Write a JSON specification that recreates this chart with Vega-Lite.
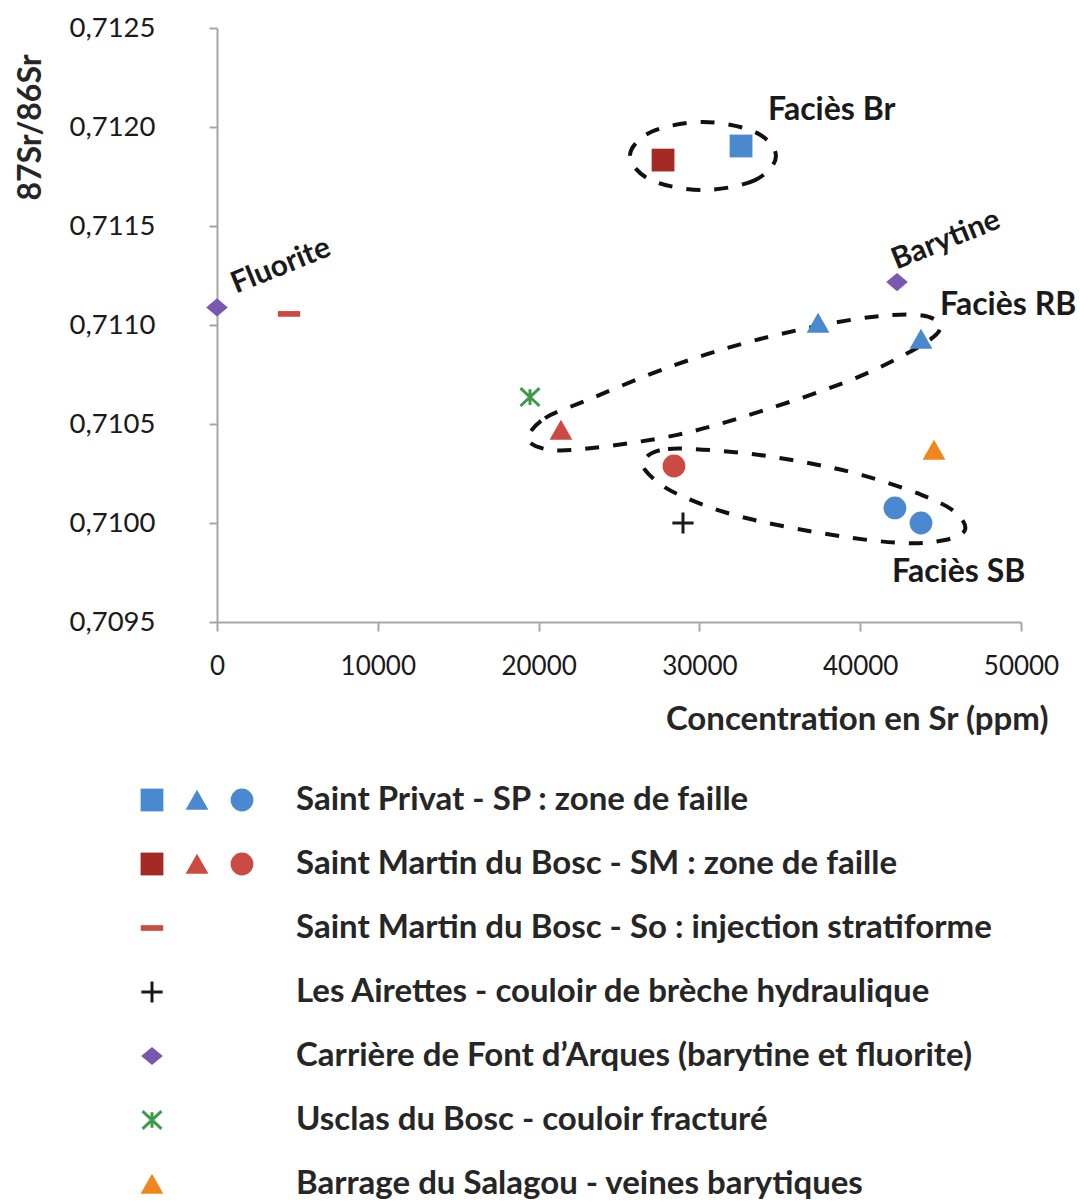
{
  "$schema": "https://vega.github.io/schema/vega-lite/v6.json",
  "background": "white",
  "padding": {"left": 14, "top": 14, "right": 0, "bottom": 0},
  "config": {"view": {"stroke": null}, "font": "Lato", "axis": {"grid": false}},
  "bounds": "flush",
  "spacing": 178,
  "datasets": {
    "mesures": [
      {"serie": "SP Br", "sr": 32590, "ratio": 0.711904},
      {"serie": "SM Br", "sr": 27740, "ratio": 0.711833},
      {"serie": "SP RB", "sr": 37380, "ratio": 0.71101},
      {"serie": "SP RB", "sr": 43780, "ratio": 0.710929},
      {"serie": "SM RB", "sr": 21390, "ratio": 0.71047},
      {"serie": "SM SB", "sr": 28420, "ratio": 0.710288},
      {"serie": "SP SB", "sr": 42160, "ratio": 0.710076},
      {"serie": "SP SB", "sr": 43780, "ratio": 0.71},
      {"serie": "So", "sr": 4480, "ratio": 0.711056},
      {"serie": "Airettes", "sr": 28980, "ratio": 0.71},
      {"serie": "Font d'Arques", "sr": 0, "ratio": 0.711089},
      {"serie": "Font d'Arques", "sr": 42290, "ratio": 0.711217},
      {"serie": "Usclas", "sr": 19465, "ratio": 0.710636},
      {"serie": "Salagou", "sr": 44590, "ratio": 0.710369}
    ],
    "ellipses": [
      {"ellipse": "Br", "ordre": 1, "sr": 34760, "ratio": 0.711854},
      {"ellipse": "Br", "ordre": 2, "sr": 33460, "ratio": 0.711732},
      {"ellipse": "Br", "ordre": 3, "sr": 30220, "ratio": 0.711682},
      {"ellipse": "Br", "ordre": 4, "sr": 26990, "ratio": 0.711732},
      {"ellipse": "Br", "ordre": 5, "sr": 25680, "ratio": 0.711854},
      {"ellipse": "Br", "ordre": 6, "sr": 26990, "ratio": 0.711975},
      {"ellipse": "Br", "ordre": 7, "sr": 30220, "ratio": 0.712025},
      {"ellipse": "Br", "ordre": 8, "sr": 33460, "ratio": 0.711975},
      {"ellipse": "RB", "ordre": 1, "sr": 19341, "ratio": 0.710429},
      {"ellipse": "RB", "ordre": 2, "sr": 20398, "ratio": 0.71053},
      {"ellipse": "RB", "ordre": 3, "sr": 22886, "ratio": 0.710616},
      {"ellipse": "RB", "ordre": 4, "sr": 28296, "ratio": 0.710793},
      {"ellipse": "RB", "ordre": 5, "sr": 33769, "ratio": 0.710929},
      {"ellipse": "RB", "ordre": 6, "sr": 39739, "ratio": 0.71103},
      {"ellipse": "RB", "ordre": 7, "sr": 43532, "ratio": 0.711051},
      {"ellipse": "RB", "ordre": 8, "sr": 44963, "ratio": 0.711},
      {"ellipse": "RB", "ordre": 9, "sr": 44030, "ratio": 0.710909},
      {"ellipse": "RB", "ordre": 10, "sr": 39863, "ratio": 0.710737},
      {"ellipse": "RB", "ordre": 11, "sr": 33893, "ratio": 0.710566},
      {"ellipse": "RB", "ordre": 12, "sr": 28545, "ratio": 0.710444},
      {"ellipse": "RB", "ordre": 13, "sr": 22823, "ratio": 0.710374},
      {"ellipse": "RB", "ordre": 14, "sr": 20398, "ratio": 0.710374},
      {"ellipse": "SB", "ordre": 1, "sr": 26493, "ratio": 0.710308},
      {"ellipse": "SB", "ordre": 2, "sr": 28047, "ratio": 0.710374},
      {"ellipse": "SB", "ordre": 3, "sr": 32587, "ratio": 0.710354},
      {"ellipse": "SB", "ordre": 4, "sr": 36443, "ratio": 0.710308},
      {"ellipse": "SB", "ordre": 5, "sr": 40112, "ratio": 0.710242},
      {"ellipse": "SB", "ordre": 6, "sr": 43843, "ratio": 0.710141},
      {"ellipse": "SB", "ordre": 7, "sr": 45896, "ratio": 0.710056},
      {"ellipse": "SB", "ordre": 8, "sr": 46517, "ratio": 0.709965},
      {"ellipse": "SB", "ordre": 9, "sr": 45274, "ratio": 0.709914},
      {"ellipse": "SB", "ordre": 10, "sr": 42662, "ratio": 0.709899},
      {"ellipse": "SB", "ordre": 11, "sr": 38308, "ratio": 0.709939},
      {"ellipse": "SB", "ordre": 12, "sr": 32649, "ratio": 0.71003},
      {"ellipse": "SB", "ordre": 13, "sr": 29042, "ratio": 0.710131},
      {"ellipse": "SB", "ordre": 14, "sr": 27239, "ratio": 0.710217}
    ],
    "annotations": [
      {"texte": "Fluorite", "categorie": "minéral", "sr": 3980, "ratio": 0.711298},
      {"texte": "Barytine", "categorie": "minéral", "sr": 45336, "ratio": 0.711429},
      {"texte": "Faciès Br", "categorie": "faciès", "sr": 34266, "ratio": 0.712086},
      {"texte": "Faciès RB", "categorie": "faciès", "sr": 44963, "ratio": 0.711101},
      {"texte": "Faciès SB", "categorie": "faciès", "sr": 41978, "ratio": 0.709753}
    ],
    "legende_symboles": [
      {"ligne": 0, "colonne": 0, "serie": "SP Br"},
      {"ligne": 0, "colonne": 1, "serie": "SP RB"},
      {"ligne": 0, "colonne": 2, "serie": "SP SB"},
      {"ligne": 1, "colonne": 0, "serie": "SM Br"},
      {"ligne": 1, "colonne": 1, "serie": "SM RB"},
      {"ligne": 1, "colonne": 2, "serie": "SM SB"},
      {"ligne": 2, "colonne": 0, "serie": "So"},
      {"ligne": 3, "colonne": 0, "serie": "Airettes"},
      {"ligne": 4, "colonne": 0, "serie": "Font d'Arques"},
      {"ligne": 5, "colonne": 0, "serie": "Usclas"},
      {"ligne": 6, "colonne": 0, "serie": "Salagou"}
    ],
    "legende_textes": [
      {"ligne": 0, "texte": "Saint Privat - SP : zone de faille"},
      {"ligne": 1, "texte": "Saint Martin du Bosc - SM : zone de faille"},
      {"ligne": 2, "texte": "Saint Martin du Bosc - So : injection stratiforme"},
      {"ligne": 3, "texte": "Les Airettes - couloir de brèche hydraulique"},
      {"ligne": 4, "texte": "Carrière de Font d’Arques (barytine et fluorite)"},
      {"ligne": 5, "texte": "Usclas du Bosc  - couloir fracturé"},
      {"ligne": 6, "texte": "Barrage du Salagou - veines barytiques"}
    ]
  },
  "vconcat": [
    {
      "width": 804,
      "height": 594,
      "layer": [
        {
          "data": {"name": "ellipses"},
          "mark": {"type": "line", "interpolate": "cardinal-closed", "strokeDash": [14, 14], "strokeWidth": 4, "color": "#111111"},
          "encoding": {
            "x": {
              "field": "sr", "type": "quantitative",
              "scale": {"domain": [0, 50000], "nice": false, "zero": false},
              "axis": {
                "title": "Concentration en Sr (ppm)",
                "values": [0, 10000, 20000, 30000, 40000, 50000],
                "format": "d",
                "domainColor": "#a6a6a6", "domainWidth": 2,
                "tickColor": "#a6a6a6", "tickWidth": 2, "tickSize": 9,
                "labelFontSize": 26, "labelColor": "#1a1a1a", "labelPadding": 22,
                "labelFlush": false,
                "titleFontSize": 33, "titleFontWeight": "bold", "titleColor": "#262626",
                "titleAlign": "right", "titleAnchor": "end", "titleX": 831, "titleY": 107, "titleBaseline": "alphabetic"
              }
            },
            "y": {
              "field": "ratio", "type": "quantitative",
              "scale": {"domain": [0.7095, 0.7125], "nice": false, "zero": false},
              "axis": {
                "title": "87Sr/86Sr",
                "values": [0.7095, 0.71, 0.7105, 0.711, 0.7115, 0.712, 0.7125],
                "labelExpr": "replace(format(datum.value, '.4f'), '.', ',')",
                "domainColor": "#a6a6a6", "domainWidth": 2,
                "tickColor": "#a6a6a6", "tickWidth": 2, "tickSize": 8,
                "labelFontSize": 27.5, "labelColor": "#1a1a1a", "labelPadding": 54,
                "labelFlush": false,
                "titleFontSize": 32, "titleFontWeight": "bold", "titleColor": "#262626",
                "titleAngle": 270, "titleAlign": "center", "titleBaseline": "middle", "titleX": -187, "titleY": 99
              }
            },
            "detail": {"field": "ellipse"},
            "order": {"field": "ordre", "type": "quantitative"}
          }
        },
        {
          "data": {"name": "mesures"},
          "transform": [{"filter": "datum.serie !== 'Airettes' && datum.serie !== 'Usclas'"}],
          "mark": {"type": "point", "filled": true, "opacity": 1, "size": 520},
          "encoding": {
            "x": {"field": "sr", "type": "quantitative"},
            "y": {"field": "ratio", "type": "quantitative"},
            "color": {
              "field": "serie", "type": "nominal", "legend": null,
              "scale": {
                "domain": ["SP Br", "SP RB", "SP SB", "SM Br", "SM RB", "SM SB", "So", "Airettes", "Font d'Arques", "Usclas", "Salagou"],
                "range": ["#4a88d0", "#4a88d0", "#4a88d0", "#a52a24", "#cc4a44", "#cc4a44", "#cc4a44", "#1a1a1a", "#7b58b0", "#3d9a4a", "#f0871e"]
              }
            },
            "shape": {
              "field": "serie", "type": "nominal", "legend": null,
              "scale": {
                "domain": ["SP Br", "SP RB", "SP SB", "SM Br", "SM RB", "SM SB", "So", "Airettes", "Font d'Arques", "Usclas", "Salagou"],
                "range": ["M -1 -1 L 1 -1 L 1 1 L -1 1 Z", "M 0 -0.9 L 1 0.85 L -1 0.85 Z", "circle", "M -1 -1 L 1 -1 L 1 1 L -1 1 Z", "M 0 -0.9 L 1 0.85 L -1 0.85 Z", "circle", "M -0.98 -0.25 L 0.98 -0.25 L 0.98 0.25 L -0.98 0.25 Z", "M -0.95 0 L 0.95 0 M 0 -0.95 L 0 0.95", "M -0.95 0 L 0 -0.8 L 0.95 0 L 0 0.8 Z", "M -0.85 -0.8 L 0.85 0.8 M -0.85 0.8 L 0.85 -0.8 M 0 -0.7 L 0 0.7", "M 0 -0.9 L 1 0.85 L -1 0.85 Z"]
              }
            }
          }
        },
        {
          "data": {"name": "mesures"},
          "transform": [{"filter": "datum.serie === 'Airettes' || datum.serie === 'Usclas'"}],
          "mark": {"type": "point", "filled": false, "opacity": 1, "size": 500, "strokeWidth": 3},
          "encoding": {
            "x": {"field": "sr", "type": "quantitative"},
            "y": {"field": "ratio", "type": "quantitative"},
            "color": {"field": "serie", "type": "nominal", "legend": null},
            "shape": {"field": "serie", "type": "nominal", "legend": null}
          }
        },
        {
          "data": {"name": "annotations"},
          "transform": [{"filter": "datum.categorie === 'minéral'"}],
          "mark": {"type": "text", "angle": 338, "align": "center", "baseline": "middle", "fontSize": 30, "fontWeight": "bold", "color": "#1a1a1a"},
          "encoding": {
            "x": {"field": "sr", "type": "quantitative"},
            "y": {"field": "ratio", "type": "quantitative"},
            "text": {"field": "texte"}
          }
        },
        {
          "data": {"name": "annotations"},
          "transform": [{"filter": "datum.categorie === 'faciès'"}],
          "mark": {"type": "text", "align": "left", "baseline": "middle", "fontSize": 32, "fontWeight": "bold", "color": "#1a1a1a"},
          "encoding": {
            "x": {"field": "sr", "type": "quantitative"},
            "y": {"field": "ratio", "type": "quantitative"},
            "text": {"field": "texte"}
          }
        }
      ]
    },
    {
      "width": 804,
      "height": 384,
      "layer": [
        {
          "data": {"name": "legende_symboles"},
          "transform": [{"filter": "datum.serie !== 'Airettes' && datum.serie !== 'Usclas'"}],
          "mark": {"type": "point", "filled": true, "opacity": 1, "size": 520},
          "encoding": {
            "x": {"field": "colonne", "type": "quantitative", "axis": null, "scale": {"domain": [0, 4], "range": [-65, 115]}},
            "y": {"field": "ligne", "type": "quantitative", "axis": null, "scale": {"domain": [0, 6], "range": [0, 384]}},
            "color": {
              "field": "serie", "type": "nominal", "legend": null,
              "scale": {
                "domain": ["SP Br", "SP RB", "SP SB", "SM Br", "SM RB", "SM SB", "So", "Airettes", "Font d'Arques", "Usclas", "Salagou"],
                "range": ["#4a88d0", "#4a88d0", "#4a88d0", "#a52a24", "#cc4a44", "#cc4a44", "#cc4a44", "#1a1a1a", "#7b58b0", "#3d9a4a", "#f0871e"]
              }
            },
            "shape": {
              "field": "serie", "type": "nominal", "legend": null,
              "scale": {
                "domain": ["SP Br", "SP RB", "SP SB", "SM Br", "SM RB", "SM SB", "So", "Airettes", "Font d'Arques", "Usclas", "Salagou"],
                "range": ["M -1 -1 L 1 -1 L 1 1 L -1 1 Z", "M 0 -0.9 L 1 0.85 L -1 0.85 Z", "circle", "M -1 -1 L 1 -1 L 1 1 L -1 1 Z", "M 0 -0.9 L 1 0.85 L -1 0.85 Z", "circle", "M -0.98 -0.25 L 0.98 -0.25 L 0.98 0.25 L -0.98 0.25 Z", "M -0.95 0 L 0.95 0 M 0 -0.95 L 0 0.95", "M -0.95 0 L 0 -0.8 L 0.95 0 L 0 0.8 Z", "M -0.85 -0.8 L 0.85 0.8 M -0.85 0.8 L 0.85 -0.8 M 0 -0.7 L 0 0.7", "M 0 -0.9 L 1 0.85 L -1 0.85 Z"]
              }
            }
          }
        },
        {
          "data": {"name": "legende_symboles"},
          "transform": [{"filter": "datum.serie === 'Airettes' || datum.serie === 'Usclas'"}],
          "mark": {"type": "point", "filled": false, "opacity": 1, "size": 500, "strokeWidth": 3},
          "encoding": {
            "x": {"field": "colonne", "type": "quantitative"},
            "y": {"field": "ligne", "type": "quantitative"},
            "color": {"field": "serie", "type": "nominal", "legend": null},
            "shape": {"field": "serie", "type": "nominal", "legend": null}
          }
        },
        {
          "data": {"name": "legende_textes"},
          "mark": {"type": "text", "align": "left", "baseline": "middle", "fontSize": 33, "fontWeight": "bold", "color": "#262626"},
          "encoding": {
            "x": {"datum": 3.2, "type": "quantitative"},
            "y": {"field": "ligne", "type": "quantitative"},
            "text": {"field": "texte"}
          }
        }
      ]
    }
  ]
}
